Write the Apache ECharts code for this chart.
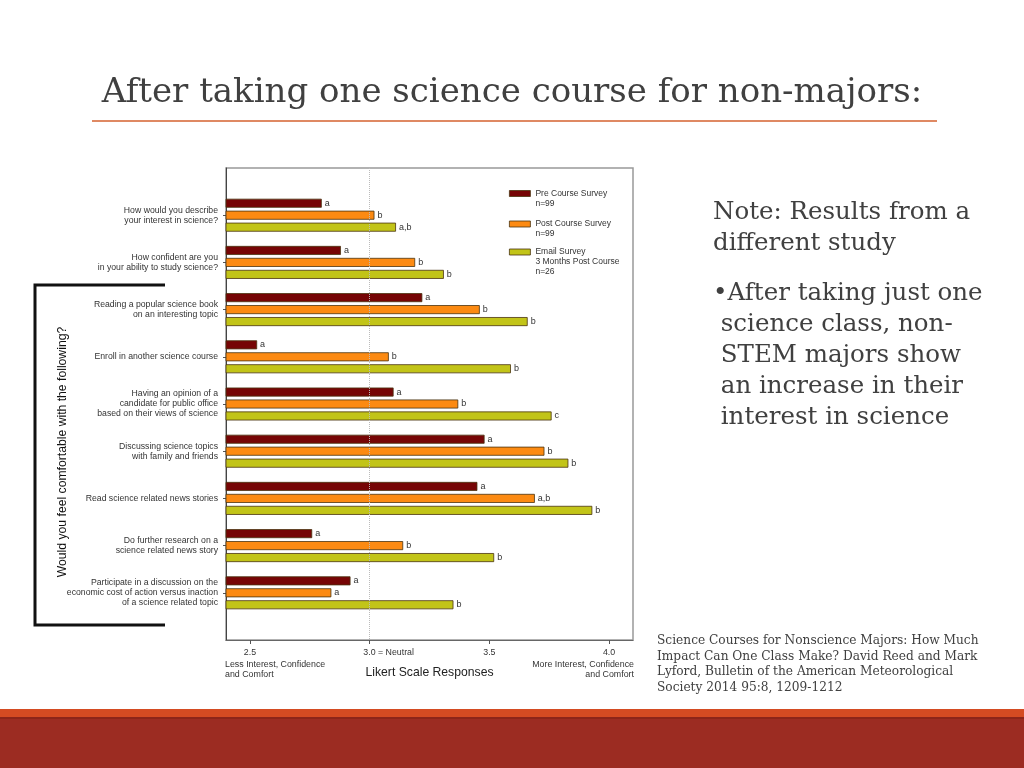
<!DOCTYPE html>
<html>
<head>
<meta charset="utf-8">
<title>After taking one science course for non-majors</title>
<script src="https://cdn.jsdelivr.net/npm/echarts@6/dist/echarts.min.js"></script>
<style>
  html, body { margin: 0; padding: 0; background: #fff; }
  #chart { width: 1024px; height: 768px; }
</style>
</head>
<body>
<div id="chart"></div>
<script>
// 问卷题目（自上而下）
var categories = [
    'How would you describe\nyour interest in science?',
    'How confident are you\nin your ability to study science?',
    'Reading a popular science book\non an interesting topic',
    'Enroll in another science course',
    'Having an opinion of a\ncandidate for public office\nbased on their views of science',
    'Discussing science topics\nwith family and friends',
    'Read science related news stories',
    'Do further research on a\nscience related news story',
    'Participate in a discussion on the\neconomic cost of action versus inaction\nof a science related topic'
];
var seriesNames = ['Pre Course Survey', 'Post Course Survey', 'Email Survey'];
var seriesNotes = ['n=99', 'n=99', '3 Months Post Course\nn=26'];
var preValues   = [2.80, 2.88, 3.22, 2.53, 3.10, 3.48, 3.45, 2.76, 2.92];
var postValues  = [3.02, 3.19, 3.46, 3.08, 3.37, 3.73, 3.69, 3.14, 2.84];
var emailValues = [3.11, 3.31, 3.66, 3.59, 3.76, 3.83, 3.93, 3.52, 3.35];
var preLetters   = ['a', 'a', 'a', 'a', 'a', 'a', 'a', 'a', 'a'];
var postLetters  = ['b', 'b', 'b', 'b', 'b', 'b', 'a,b', 'b', 'a'];
var emailLetters = ['a,b', 'b', 'b', 'b', 'c', 'b', 'b', 'b', 'b'];
var tickValues = [2.5, 3.0, 3.5, 4.0];
var colors = ['#760505', '#fc8a12', '#c2c418'];

var sans = '"Liberation Sans", Arial, sans-serif';
var serif = '"DejaVu Serif", Georgia, serif';

var myChart = echarts.init(document.getElementById('chart'));

// 上下各留一个空位，让题目落在 1..9 的位置
var yData = [''].concat(categories).concat(['']);

function makeSeries(idx, values, letters) {
    return {
        type: 'bar',
        name: seriesNames[idx],
        data: values.map(function (v, i) { return [v, i + 1]; }),
        barWidth: 9,
        barGap: '33%',
        itemStyle: { color: colors[idx], borderColor: '#4a3410', borderWidth: 0.8 },
        label: {
            show: true,
            position: 'right',
            distance: 3,
            fontFamily: sans,
            fontSize: 9,
            color: '#333',
            formatter: function (p) { return letters[p.dataIndex]; }
        }
    };
}

var series = [
    makeSeries(0, preValues, preLetters),
    makeSeries(1, postValues, postLetters),
    makeSeries(2, emailValues, emailLetters)
];
// 3.0 中性线
series[0].markLine = {
    silent: true,
    symbol: 'none',
    label: { show: false },
    lineStyle: { type: 'dotted', color: '#bbb', width: 1 },
    data: [{ xAxis: 3.0 }]
};

// 每个图例单独定位；前面补空行让第一行和色块对齐
function legendAt(idx, top) {
    var extra = seriesNotes[idx].split('\n').length;
    var pre = new Array(extra + 1).join('\n');
    return {
        data: [seriesNames[idx]],
        orient: 'vertical',
        left: 509,
        top: top,
        padding: 0,
        icon: 'rect',
        itemWidth: 21,
        itemHeight: 6,
        itemStyle: { borderWidth: 0.8, borderColor: '#4a3410' },
        selectedMode: false,
        formatter: function (name) { return pre + name + '\n' + seriesNotes[idx]; },
        textStyle: { fontFamily: sans, fontSize: 8.5, lineHeight: 10, color: '#333' }
    };
}

var option = {
    animation: false,
    backgroundColor: '#fff',
    grid: {
        left: 226, top: 168, width: 407, height: 472,
        show: true, borderColor: '#999', borderWidth: 1.5, backgroundColor: '#fff'
    },
    legend: [legendAt(0, 178.5), legendAt(1, 209), legendAt(2, 227)],
    xAxis: {
        type: 'value',
        min: 2.4,
        max: 4.1,
        splitLine: { show: false },
        axisLine: { show: true, lineStyle: { color: '#666', width: 1 } },
        axisTick: { show: true, customValues: tickValues, length: 4, lineStyle: { color: '#555' } },
        axisLabel: {
            customValues: tickValues,
            margin: 8,
            fontFamily: sans, fontSize: 8.8, color: '#333',
            formatter: function (v) { return v === 3 ? '{n|3.0 = Neutral}' : v.toFixed(1); },
            rich: { n: { padding: [0, 0, 0, 38], fontFamily: sans, fontSize: 8.8, color: '#333' } }
        },
        name: 'Likert Scale Responses',
        nameLocation: 'middle',
        nameGap: 27,
        nameTextStyle: { fontFamily: sans, fontSize: 12.2, color: '#222' }
    },
    yAxis: {
        type: 'category',
        inverse: true,
        boundaryGap: false,
        data: yData,
        axisLine: { show: true, lineStyle: { color: '#444', width: 1 } },
        axisTick: {
            show: true, length: 3, lineStyle: { color: '#555' },
            interval: function (i, v) { return v !== ''; }
        },
        axisLabel: {
            interval: 0, margin: 8,
            fontFamily: sans, fontSize: 8.7, lineHeight: 10, color: '#333'
        },
        splitLine: { show: false }
    },
    series: series,
    graphic: [
        {
            type: 'text', left: 'center', top: 76,
            style: { text: 'After taking one science course for non-majors:', font: '34px ' + serif, fill: '#404040' }
        },
        {
            type: 'line', shape: { x1: 92, y1: 121, x2: 937, y2: 121 },
            style: { stroke: '#d4622f', lineWidth: 1.5 }
        },
        {
            type: 'text', x: 713, y: 197,
            style: { text: 'Note: Results from a\ndifferent study', font: '24.5px ' + serif, lineHeight: 31, fill: '#404040' }
        },
        {
            type: 'text', x: 713, y: 278,
            style: {
                text: '\u2022After taking just one\n science class, non-\n STEM majors show\n an increase in their\n interest in science',
                font: '24.5px ' + serif, lineHeight: 31, fill: '#404040'
            }
        },
        {
            type: 'text', x: 657, y: 633,
            style: {
                text: 'Science Courses for Nonscience Majors: How Much\nImpact Can One Class Make? David Reed and Mark\nLyford, Bulletin of the American Meteorological\nSociety 2014 95:8, 1209-1212',
                font: '12.2px ' + serif, lineHeight: 15.6, fill: '#404040'
            }
        },
        {
            type: 'text', x: 225, y: 660,
            style: { text: 'Less Interest, Confidence\nand Comfort', font: '8.85px ' + sans, lineHeight: 10, fill: '#333' }
        },
        {
            type: 'text', x: 634, y: 660,
            style: { text: 'More Interest, Confidence\nand Comfort', font: '8.85px ' + sans, lineHeight: 10, fill: '#333', align: 'right' }
        },
        {
            type: 'text', x: 63, y: 452, rotation: Math.PI / 2,
            style: {
                text: 'Would you feel comfortable with the following?',
                font: '12.2px ' + sans, fill: '#111', align: 'center', verticalAlign: 'middle'
            }
        },
        {
            type: 'polyline',
            shape: { points: [[165, 285], [35, 285], [35, 625], [165, 625]] },
            style: { stroke: '#111', lineWidth: 3, fill: null }
        },
        { type: 'rect', shape: { x: 0, y: 709, width: 1024, height: 8 }, style: { fill: '#d44b22' } },
        { type: 'rect', shape: { x: 0, y: 717, width: 1024, height: 2 }, style: { fill: '#8c2519' } },
        { type: 'rect', shape: { x: 0, y: 719, width: 1024, height: 49 }, style: { fill: '#9c2c22' } }
    ]
};

myChart.setOption(option);
</script>
</body>
</html>
